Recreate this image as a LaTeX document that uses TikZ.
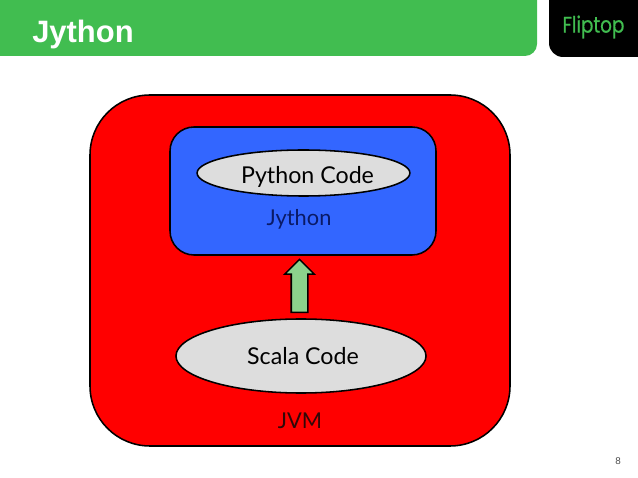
\documentclass[tikz,border=0pt]{standalone}
\usepackage{fontspec}
\setmainfont{Lato}
\newfontfamily\titlefont{Liberation Sans}
\newfontfamily\logofont[FakeStretch=0.82,FakeBold=0.6]{Poppins}
\usepackage{tikz}
\usetikzlibrary{shapes.geometric,shapes.arrows}
\definecolor{barGreen}{HTML}{41BD50}
\definecolor{boxBlue}{HTML}{3366FF}
\definecolor{codeGray}{HTML}{DDDDDD}
\definecolor{arrowGreen}{HTML}{8CD18C}
\definecolor{labelNavy}{HTML}{0A1A66}
\definecolor{labelMaroon}{HTML}{300808}
\tikzset{
  outline/.style={draw=black,line width=1.1pt},
  code/.style={ellipse,outline,fill=codeGray,inner sep=0pt,font=\fontsize{16.5}{20}\selectfont},
  boxlabel/.style={inner sep=0pt,font=\fontsize{15.5}{20}\selectfont},
}
\begin{document}
\begin{tikzpicture}[x=0.025cm,y=-0.025cm]
\useasboundingbox (0,0) rectangle (638,478);
% header
\fill[barGreen] (0,0) -- (537,0) [rounded corners=0.3cm] -- (537,56) [sharp corners] -- (0,56) -- cycle;
\fill[black] (638,0) -- (549,0) [rounded corners=0.35cm] -- (549,57) [sharp corners] -- (638,57) -- cycle;
\node[white,anchor=west,inner sep=0pt,font=\titlefont\bfseries\fontsize{22}{26}\selectfont] (title) at (32,35) {Jython};
\node[barGreen,inner sep=0pt,font=\logofont\fontsize{16}{18}\selectfont] (logo) at (593.5,27) {Fliptop};
% boxes
\filldraw[fill=red,outline,rounded corners=1.5cm] (90,95) rectangle (510,446);
\filldraw[fill=boxBlue,outline,rounded corners=0.6cm] (170,127) rectangle (436,255);
\node[code,minimum width=5.32cm,minimum height=1.15cm,text height=0.5cm,text depth=0cm] (python) at (303.5,173) {\hspace*{0.2cm}Python Code};
\node[code,minimum width=6.25cm,minimum height=1.85cm] (scala) at (301,356) {\hspace*{0.1cm}Scala Code};
\node[boxlabel,labelNavy] (jython) at (299,219.5) {Jython};
\node[boxlabel,labelMaroon] (jvm) at (300,421) {JVM};
% arrow
\node[single arrow,outline,fill=arrowGreen,rotate=90,inner xsep=0pt,inner ysep=0.1875cm,
  minimum height=1.325cm,single arrow head extend=0.1625cm] (up) at (299.5,290) {};
\node[black!70,inner sep=0pt,font=\titlefont\fontsize{7}{8}\selectfont] (page) at (618,461) {8};
\end{tikzpicture}
\end{document}
